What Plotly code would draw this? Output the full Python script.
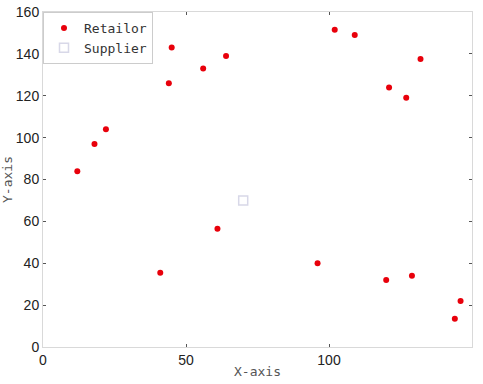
import plotly.graph_objects as go

retailor_x = [12, 15, 18, 22, 41, 44, 45, 56, 61, 64, 96, 102, 109, 120, 121, 127, 129, 132, 144, 146]
retailor_y = [84, 137.5, 97, 104, 35.5, 126, 143, 133, 56.5, 139, 40, 151.5, 149, 32, 124, 119, 34, 137.5, 13.5, 22]
supplier_x = [70]
supplier_y = [70]

x_ticks = [0, 50, 100, 150]
y_ticks = [0, 20, 40, 60, 80, 100, 120, 140, 160]

fig = go.Figure()
fig.add_trace(go.Scatter(x=retailor_x, y=retailor_y, mode="markers", name="Retailor",
                         marker=dict(color="#e8000b", size=6)))
fig.add_trace(go.Scatter(x=supplier_x, y=supplier_y, mode="markers", name="Supplier",
                         marker=dict(symbol="square-open", color="#d8d8e8", size=9, line=dict(width=1.5))))

axis_common = dict(showgrid=False, zeroline=False, showline=True, linecolor="#d9d9d9", linewidth=1,
                   mirror="ticks", ticks="inside", ticklen=3, tickcolor="#555555", automargin=False,
                   tickfont=dict(family="Liberation Sans, Arial", size=14, color="#222222"))

fig.update_layout(
    width=483, height=384,
    margin=dict(l=43, r=11, t=12, b=37),
    paper_bgcolor="white", plot_bgcolor="white",
    xaxis=dict(range=[0, 150], tickvals=x_ticks,
               title=dict(text="X-axis", font=dict(family="DejaVu Sans Mono", size=13, color="#555555"), standoff=0),
               **axis_common),
    yaxis=dict(range=[0, 160], tickvals=y_ticks,
               title=dict(text="Y-axis", font=dict(family="DejaVu Sans Mono", size=13, color="#555555"), standoff=0),
               **axis_common),
    legend=dict(x=0, y=1, xanchor="left", yanchor="top", bgcolor="white",
                bordercolor="#cccccc", borderwidth=1, entrywidth=100,
                font=dict(family="DejaVu Sans Mono", size=13, color="#333333"),
                tracegroupgap=0, itemsizing="trace"),
    showlegend=True,
)

fig.write_html("out.html")
